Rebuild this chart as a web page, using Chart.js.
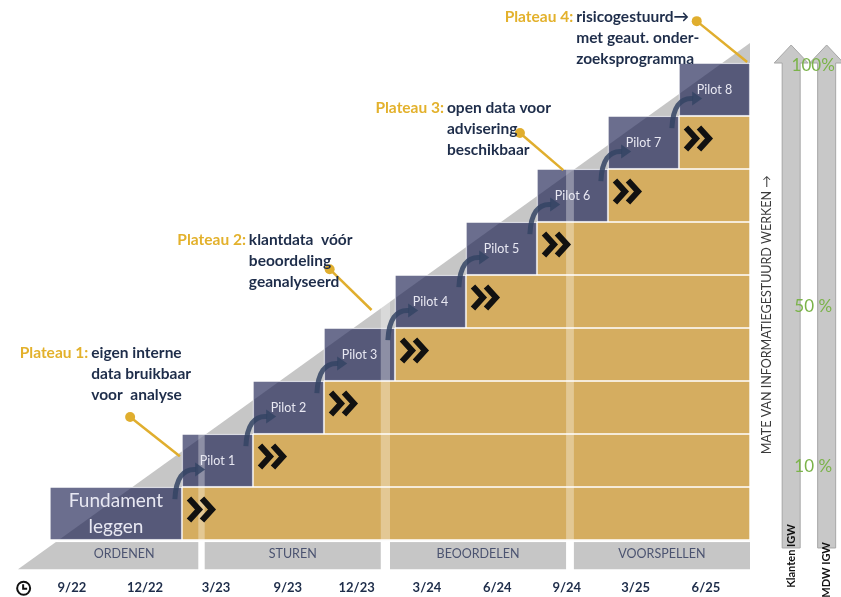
<!DOCTYPE html>
<html lang="nl">
<head>
<meta charset="UTF-8">
<title>Groeipad informatiegestuurd werken</title>
<script src="https://cdn.jsdelivr.net/npm/chart.js@4"></script>
<style>
  html, body { margin: 0; padding: 0; background: #fff; }
  #wrap { position: relative; width: 841px; height: 597px; }
</style>
</head>
<body>
<div id="wrap"><canvas id="stairs"></canvas></div>
<script>
// x in "step" units (one pilot = 1), y in levels (one row = 1)
const stepNames = [['Fundament', 'leggen'], 'Pilot 1', 'Pilot 2', 'Pilot 3', 'Pilot 4', 'Pilot 5', 'Pilot 6', 'Pilot 7', 'Pilot 8'];
const stepStart = [-1.86, 0, 1, 2, 3, 4, 5, 6, 7];
const stepEnd   = [0, 1, 2, 3, 4, 5, 6, 7, 8];
const goldEnd = 8;

const phaseNames = ['ORDENEN', 'STUREN', 'BEOORDELEN', 'VOORSPELLEN'];
const phaseStart = [-1.86, 0.32, 2.93, 5.52];
const phaseEnd   = [0.23, 2.80, 5.41, 8.0];

const timeLabels = ['9/22', '12/22', '3/23', '9/23', '12/23', '3/24', '6/24', '9/24', '3/25', '6/25'];
const timePos    = [-1.55, -0.52, 0.48, 1.49, 2.46, 3.45, 4.44, 5.42, 6.39, 7.38];

const diagonal = [{ x: -2.31, y: -0.55 }, { x: 8, y: 9.38 }];

const plateauLabels = ['Plateau 1:', 'Plateau 2:', 'Plateau 3:', 'Plateau 4:'];
const plateauText = [
  ['eigen interne', 'data bruikbaar', 'voor  analyse'],
  ['klantdata  vóór', 'beoordeling', 'geanalyseerd'],
  ['open data voor', 'advisering', 'beschikbaar'],
  ['risicogestuurd→', 'met geaut. onder-', 'zoeksprogramma']
];
const plateauTextAt = [[-1.32, 3.53], [0.90, 5.66], [3.69, 8.15], [5.51, 9.87]];
const plateauDot    = [[-0.73, 2.32], [2.08, 5.11], [4.76, 7.68], [7.25, 9.79]];
const plateauEnd    = [[-0.03, 1.58], [2.67, 4.34], [5.37, 6.98], [7.96, 9.02]];

const igwNames = ['Klanten IGW', 'MDW IGW'];
const igwX = [8.58, 9.08];
const igwLabelLevel = [-0.15, -0.28];
const pctLabels = ['100%', '50 %', '10 %'];
const pctLevels = [8.96, 4.40, 1.38];

const X_MIN = -2.563, X_MAX = 9.282, Y_MIN = -1.075, Y_MAX = 10.189;
const CANVAS_H = 597;
const ROW_PX = CANVAS_H / (Y_MAX - Y_MIN);
const BAND_TOP = -0.02, BAND_BOTTOM = -0.55, BAND_MID = -0.27, TIME_LEVEL = -0.91;
const ARROW_BOTTOM = -0.15, ARROW_HEAD = 9.0, ARROW_TIP = 9.34;

const NAVY = '#1e2d4a', GOLD_TXT = '#e3b12c', GOLD = '#d5ad60';

const blockData = stepStart.map((s, i) => ({ y: i + 0.5, x: [s, stepEnd[i]] }));
const goldData = stepEnd.slice(0, -1).map((s, i) => ({ y: i + 0.5, x: [s, goldEnd] }));

const plateauLines = plateauDot.map((d, i) => ({
  type: 'line',
  data: [{ x: d[0], y: d[1] }, { x: plateauEnd[i][0], y: plateauEnd[i][1] }],
  borderColor: '#e0ae2e',
  borderWidth: 2.5,
  pointRadius: [5, 0],
  pointBackgroundColor: '#e0ae2e',
  pointBorderWidth: 0,
  fill: false,
  order: 0
}));

function chevron(ctx, cx, cy) {
  ctx.beginPath();
  ctx.moveTo(cx - 8, cy - 11);
  ctx.lineTo(cx + 2, cy);
  ctx.lineTo(cx - 8, cy + 11);
  ctx.stroke();
}

const stairsDecor = {
  id: 'stairsDecor',
  afterDatasetsDraw(chart) {
    const ctx = chart.ctx, xs = chart.scales.x, ys = chart.scales.y;
    const X = v => xs.getPixelForValue(v), Y = v => ys.getPixelForValue(v);
    ctx.save();
    ctx.textAlign = 'center';
    ctx.textBaseline = 'middle';

    // light stripes between phases, white cuts in the bottom band
    for (let i = 0; i < phaseNames.length - 1; i++) {
      const a = X(phaseEnd[i]), b = X(phaseStart[i + 1]);
      ctx.fillStyle = 'rgba(255,255,255,0.33)';
      ctx.fillRect(a, Y(Y_MAX), b - a, Y(BAND_TOP) - Y(Y_MAX));
      ctx.fillStyle = '#fff';
      ctx.fillRect(a, Y(BAND_TOP), b - a, Y(BAND_BOTTOM) - Y(BAND_TOP) + 2);
    }
    ctx.fillStyle = '#fff';
    ctx.fillRect(X(X_MIN), Y(BAND_TOP) - 1, X(goldEnd) - X(X_MIN), 2);
    ctx.font = '12.5px Lato';
    ctx.fillStyle = '#4b5370';
    phaseNames.forEach((n, i) => ctx.fillText(n, X((phaseStart[i] + phaseEnd[i]) / 2), Y(BAND_MID)));

    // chevrons on the gold rows
    ctx.strokeStyle = '#111';
    ctx.lineWidth = 6;
    ctx.lineJoin = 'miter';
    goldData.forEach(g => {
      const cx = X(g.x[0]) + 20, cy = Y(g.y) - 4;
      chevron(ctx, cx - 5, cy);
      chevron(ctx, cx + 8, cy);
    });

    // curved arrows stepping up
    ctx.strokeStyle = 'rgba(52,68,100,0.85)';
    ctx.fillStyle = 'rgba(52,68,100,0.85)';
    ctx.lineWidth = 5;
    ctx.lineCap = 'butt';
    for (let k = 1; k < stepStart.length; k++) {
      const x0 = stepStart[k];
      const sx = X(x0 - 0.1), sy = Y(k - 0.23);
      const cx = X(x0 - 0.08), cy = Y(k + 0.36);
      const ex = X(x0 + 0.2), ey = Y(k + 0.33);
      ctx.beginPath();
      ctx.moveTo(sx, sy);
      ctx.quadraticCurveTo(cx, cy, ex, ey);
      ctx.stroke();
      ctx.beginPath();
      ctx.moveTo(ex + 9, ey);
      ctx.lineTo(ex - 1, ey - 7);
      ctx.lineTo(ex - 1, ey + 7);
      ctx.closePath();
      ctx.fill();
    }

    // block labels
    ctx.fillStyle = '#e8e8f2';
    stepNames.forEach((n, i) => {
      const cx = X((stepStart[i] + stepEnd[i]) / 2), cy = Y(i + 0.5);
      if (Array.isArray(n)) {
        ctx.font = '19px Lato';
        ctx.fillText(n[0], cx, cy - 13);
        ctx.fillText(n[1], cx, cy + 13);
      } else {
        ctx.font = '12.5px Lato';
        ctx.fillText(n, cx, cy);
      }
    });

    // plateau callouts
    plateauLabels.forEach((lab, i) => {
      const tx = X(plateauTextAt[i][0]), ty = Y(plateauTextAt[i][1]);
      ctx.font = 'bold 15.5px Lato';
      ctx.textAlign = 'right';
      ctx.fillStyle = GOLD_TXT;
      ctx.fillText(lab, tx, ty);
      ctx.textAlign = 'left';
      ctx.fillStyle = NAVY;
      plateauText[i].forEach((line, j) => ctx.fillText(line, tx + 3, ty + j * 21));
    });

    // time axis
    ctx.textAlign = 'center';
    ctx.font = 'bold 13px Lato';
    ctx.fillStyle = NAVY;
    timeLabels.forEach((t, i) => ctx.fillText(t, X(timePos[i]), Y(TIME_LEVEL)));
    const kx = X(-2.23), ky = Y(TIME_LEVEL);
    ctx.strokeStyle = '#111';
    ctx.lineWidth = 2;
    ctx.beginPath();
    ctx.arc(kx, ky, 6.5, 0, Math.PI * 2);
    ctx.stroke();
    ctx.beginPath();
    ctx.moveTo(kx - 0.5, ky - 4);
    ctx.lineTo(kx - 0.5, ky + 0.5);
    ctx.lineTo(kx + 3.5, ky + 0.5);
    ctx.stroke();

    // IGW arrows on the right
    igwX.forEach(v => {
      const cx = X(v), yb = Y(ARROW_BOTTOM), yh = Y(ARROW_HEAD), yt = Y(ARROW_TIP);
      ctx.beginPath();
      ctx.moveTo(cx - 9, yb);
      ctx.lineTo(cx - 9, yh);
      ctx.lineTo(cx - 17, yh);
      ctx.lineTo(cx, yt);
      ctx.lineTo(cx + 17, yh);
      ctx.lineTo(cx + 9, yh);
      ctx.lineTo(cx + 9, yb);
      ctx.closePath();
      ctx.fillStyle = '#c8c8c8';
      ctx.fill();
      ctx.strokeStyle = '#a6a6a6';
      ctx.lineWidth = 1;
      ctx.stroke();
    });
    ctx.font = '17px Lato';
    ctx.fillStyle = '#7bb34a';
    pctLabels.forEach((p, i) => ctx.fillText(p, X(8.89), Y(pctLevels[i])));

    ctx.font = 'bold 11px Lato';
    ctx.fillStyle = '#111';
    igwNames.forEach((n, i) => {
      ctx.save();
      ctx.translate(X(igwX[i]), Y(igwLabelLevel[i]) + (i ? 15 : 8));
      ctx.rotate(-Math.PI / 2);
      ctx.fillText(n, 0, 0);
      ctx.restore();
    });

    ctx.save();
    ctx.translate(X(8.24), Y(4.25));
    ctx.rotate(-Math.PI / 2);
    ctx.font = '12.5px Lato';
    ctx.fillStyle = '#3a3a3a';
    ctx.fillText('MATE VAN INFORMATIEGESTUURD WERKEN →', 0, 0);
    ctx.restore();

    ctx.restore();
  }
};

const barStyle = {
  indexAxis: 'y',
  borderColor: '#ffffff',
  borderWidth: 1,
  borderSkipped: false,
  barThickness: ROW_PX,
  grouped: false
};

new Chart(document.getElementById('stairs'), {
  type: 'bar',
  data: {
    datasets: [
      Object.assign({ label: 'Stappen', data: blockData, backgroundColor: 'rgba(22,27,77,0.635)', order: 1 }, barStyle),
      Object.assign({ label: 'Doorlopend', data: goldData, backgroundColor: GOLD, order: 2 }, barStyle),
      {
        type: 'line',
        label: 'Groei',
        data: diagonal,
        backgroundColor: '#c6c6c6',
        borderWidth: 0,
        pointRadius: 0,
        fill: { value: BAND_BOTTOM },
        order: 5
      },
      ...plateauLines
    ]
  },
  options: {
    responsive: true,
    maintainAspectRatio: false,
    animation: false,
    events: [],
    layout: { padding: 0, autoPadding: false },
    plugins: { legend: { display: false }, tooltip: { enabled: false } },
    scales: {
      x: { type: 'linear', min: X_MIN, max: X_MAX, bounds: 'data', offset: false, grid: { offset: false }, display: false },
      y: { type: 'linear', min: Y_MIN, max: Y_MAX, bounds: 'data', offset: false, grid: { offset: false }, display: false,
           ticks: { stepSize: 1, includeBounds: false } }
    }
  },
  plugins: [stairsDecor]
});
</script>
</body>
</html>
